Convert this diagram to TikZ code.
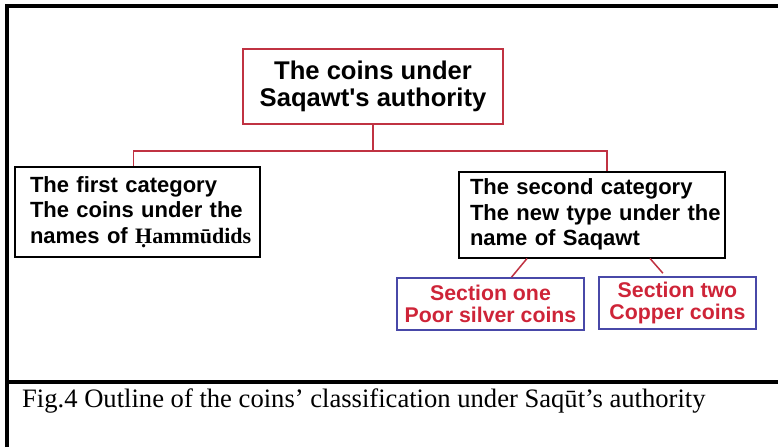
\documentclass[tikz,border=0pt]{standalone}
\usepackage{fontspec}
\setmainfont{Liberation Serif}
\newfontfamily\plainsans{Liberation Sans}
\usetikzlibrary{positioning}

\definecolor{wirered}{RGB}{192,50,66}
\definecolor{sectblue}{RGB}{72,72,168}
\definecolor{secttext}{RGB}{206,36,56}

\begin{document}
\begin{tikzpicture}[x=1pt,y=-1pt,
    topbox/.style={draw=wirered, line width=1.8pt, minimum width=260pt, minimum height=75pt,
        inner sep=0pt, align=center, font=\plainsans\bfseries\fontsize{25.6}{26.5}\selectfont},
    catbox/.style={draw=black, line width=2pt, inner ysep=0pt, minimum height=86pt,
        align=left, font=\plainsans\bfseries\fontsize{22}{25.5}\selectfont},
    sectbox/.style={draw=sectblue, line width=1.6pt, inner sep=0pt, minimum height=52pt,
        align=center, text=secttext, font=\plainsans\bfseries\fontsize{21.3}{22}\selectfont},
    link/.style={draw=wirered, line width=1.5pt},
    frame/.style={draw=black, line width=3.5pt}]

        \useasboundingbox (0,0) rectangle (778,447);

        % outer frame and caption rule
        \path[frame] (7,447) -- (7,6) -- (778,6);
        \path[frame] (7,382) -- (778,382);

        \node[topbox] (authority) at (373,86.5) {The coins under\\ Saqawt's authority};

        \node[catbox, text width=215pt, inner xsep=15pt, minimum height=90pt] (first) at (137.5,212)
            {\mbox{The first category}\\ \mbox{The coins under the}\\ \mbox{names of {\rmfamily Ḥammūdids}}};
        \node[catbox, text width=244pt, inner xsep=11pt] (second) at (592,214.5)
            {\mbox{The second category}\\ \mbox{The new type under the}\\ \mbox{name of Saqawt}};

        \node[sectbox, minimum width=187pt] (secone) at (490.5,304) {Section one\\ Poor silver coins};
        \node[sectbox, minimum width=157pt] (sectwo) at (677.5,303) {Section two\\ Copper coins};

        \path[link] (authority.south) -- ++(0,26) -| ([xshift=-4pt]first.north);
        \path[link] (authority.south) -- ++(0,26) -| ([xshift=15pt]second.north);
        \path[link] ([xshift=-65pt]second.south) -- ([xshift=21pt]secone.north);
        \path[link, shorten >=4pt] ([xshift=58pt]second.south) -- ([xshift=-12pt]sectwo.north);

        \node[anchor=base west, inner sep=0pt, font=\rmfamily\fontsize{26.6}{27}\selectfont] (caption) at (22,407)
            {Fig.4 Outline of the coins’ classification under Saqūt’s authority};

\end{tikzpicture}
\end{document}
